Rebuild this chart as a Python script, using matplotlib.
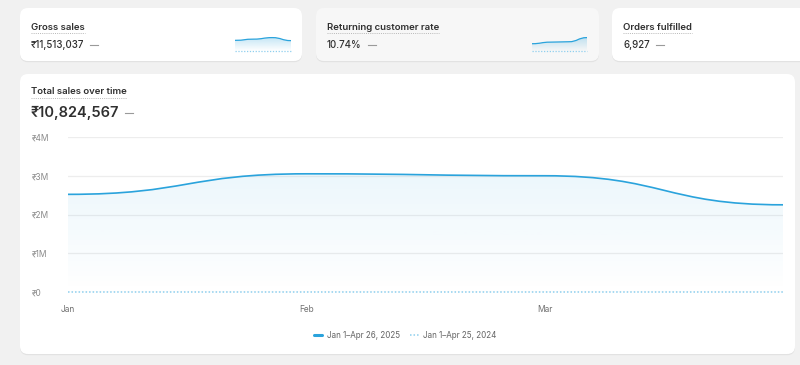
import numpy as np
import matplotlib
matplotlib.use("Agg")
import matplotlib.pyplot as plt
from matplotlib.patches import FancyBboxPatch, PathPatch
from matplotlib.path import Path

plt.rcParams['font.family'] = ['Inter', 'DejaVu Sans']

# --------- DATA ---------
months = ['Jan', 'Feb', 'Mar', 'Apr']
sales_2025 = [2.52e6, 3.05e6, 3.00e6, 2.25e6]
sales_2024 = [0, 0, 0, 0]
y_ticks = [0, 1e6, 2e6, 3e6, 4e6]
y_tick_labels = ['₹0', '₹1M', '₹2M', '₹3M', '₹4M']
legend_labels = ['Jan 1–Apr 26, 2025', 'Jan 1–Apr 25, 2024']

gross_spark = [2.65, 2.95, 3.33, 2.58]
returning_spark = [7.4, 9.0, 9.4, 13.6]

card_titles = ['Gross sales', 'Returning customer rate', 'Orders fulfilled']
card_values = ['₹11,513,037', '10.74%', '6,927']
chart_title = 'Total sales over time'
chart_total = '₹10,824,567'

BLUE = '#2aa3dc'
LIGHT_BLUE = '#8ecfee'
TEXT = '#303030'
GREY = '#8a8a8a'


def bump_path(x, y, close_to=None):
    """bezier path through the points, flat at each point (like d3 curveBumpX)"""
    verts = [(x[0], y[0])]
    codes = [Path.MOVETO]
    for i in range(len(x) - 1):
        xm = (x[i] + x[i + 1]) / 2
        verts += [(xm, y[i]), (xm, y[i + 1]), (x[i + 1], y[i + 1])]
        codes += [Path.CURVE4] * 3
    if close_to is not None:
        verts += [(x[-1], close_to), (x[0], close_to), (x[0], y[0])]
        codes += [Path.LINETO, Path.LINETO, Path.CLOSEPOLY]
    return Path(verts, codes)


def gradient_fill(ax, x, y, top, a_top):
    rgba = np.zeros((100, 1, 4))
    rgba[..., :3] = matplotlib.colors.to_rgb(BLUE)
    rgba[:, 0, 3] = np.linspace(0, a_top, 100)
    im = ax.imshow(rgba, extent=[x[0], x[-1], 0, top], origin='lower', aspect='auto', zorder=1)
    patch = PathPatch(bump_path(x, y, close_to=0), facecolor='none', edgecolor='none')
    ax.add_patch(patch)
    im.set_clip_path(patch)


fig = plt.figure(figsize=(8, 3.65), dpi=100)
fig.patch.set_facecolor('#f1f1f1')

# background axes in pixel coordinates
bg = fig.add_axes([0, 0, 1, 1])
bg.set_xlim(0, 800)
bg.set_ylim(365, 0)
bg.axis('off')


def card(x, y, w, h, color='white'):
    bg.add_patch(FancyBboxPatch((x, y + 1.2), w, h, boxstyle='round,pad=0,rounding_size=8',
                                facecolor='#e2e2e2', edgecolor='none'))
    bg.add_patch(FancyBboxPatch((x, y), w, h, boxstyle='round,pad=0,rounding_size=8',
                                facecolor=color, edgecolor='none'))


card(20, 8, 282, 53)
card(316, 8, 283, 53, color='#f7f7f7')
card(612, 8, 210, 53)
card(20, 74, 775, 280)

# --------- CARD TEXTS ---------
underlined = []
value_texts = []
for cx, title, value in zip([31, 327, 623], card_titles, card_values):
    underlined.append(bg.text(cx, 27, title, fontsize=6.9, fontweight='semibold', color=TEXT, va='center'))
    value_texts.append(bg.text(cx, 45.5, value, fontsize=7.0, fontweight='medium', color=TEXT, va='center'))

underlined.append(bg.text(31, 92, chart_title, fontsize=6.9, fontweight='semibold', color=TEXT, va='center'))
value_texts.append(bg.text(31, 113, chart_total, fontsize=10.5, fontweight='semibold', color=TEXT, va='center'))

# --------- SPARKLINES ---------
for (x0, x1), vals in zip([(235, 291), (532, 587)], [gross_spark, returning_spark]):
    sp = fig.add_axes([x0 / 800, (365 - 51) / 365, (x1 - x0) / 800, 15 / 365])
    sp.axis('off')
    xs = np.arange(len(vals))
    top = max(vals) * 1.12
    gradient_fill(sp, xs, vals, top, 0.3)
    sp.add_patch(PathPatch(bump_path(xs, vals), facecolor='none', edgecolor=BLUE, lw=0.9, zorder=3))
    sp.plot(xs, [0] * len(xs), color=LIGHT_BLUE, lw=0.9, ls=(0, (1, 1.3)), zorder=2, clip_on=False)
    sp.set_xlim(0, len(vals) - 1)
    sp.set_ylim(0, top)

# --------- MAIN CHART ---------
ax = fig.add_axes([68 / 800, (365 - 292) / 365, (783 - 68) / 800, (292 - 137) / 365])
ax.set_facecolor('none')
x = np.arange(len(months))

gradient_fill(ax, x, sales_2025, max(sales_2025), 0.09)
ax.add_patch(PathPatch(bump_path(x, sales_2025), facecolor='none', edgecolor=BLUE, lw=1.2, zorder=3))
# proxy line for the legend
l1, = ax.plot([], [], color=BLUE, lw=2.2, solid_capstyle='round')
l2, = ax.plot(x, sales_2024, color=LIGHT_BLUE, lw=1.1, ls=(0, (1, 1.3)), zorder=2, clip_on=False)

ax.set_xlim(0, 3)
ax.set_ylim(0, 4e6)
ax.set_yticks(y_ticks)
ax.set_yticklabels(y_tick_labels, ha='left')
ax.set_xticks(x[:3])
ax.set_xticklabels(months[:3])
ax.tick_params(axis='y', length=0, pad=26, labelsize=6, labelcolor=GREY)
ax.tick_params(axis='x', length=0, pad=9, labelsize=6, labelcolor='#6f6f6f')
ax.yaxis.grid(True, color='#ededed', lw=0.9)
ax.set_axisbelow(True)
for s in ax.spines.values():
    s.set_visible(False)

leg = ax.legend([l1, l2], legend_labels, loc='center', bbox_to_anchor=(405 / 800, 1 - 335 / 365),
                bbox_transform=fig.transFigure, ncol=2, frameon=False, fontsize=5.8, labelcolor='#646464',
                handlelength=1.1, handletextpad=0.5, columnspacing=1.3)

# --------- DASHES AND DOTTED UNDERLINES ---------
fig.canvas.draw()
r = fig.canvas.get_renderer()
inv = bg.transData.inverted()

for txt in underlined:
    bb = txt.get_window_extent(r)
    (xa, ya), (xb, yb) = inv.transform([(bb.x0, bb.y0), (bb.x1, bb.y1)])
    bg.plot([xa, xb], [ya + 1.5, ya + 1.5], color='#b8b8b8', lw=0.7, ls=(0, (1, 1.2)))

for txt in value_texts:
    bb = txt.get_window_extent(r)
    (xa, ya), (xb, yb) = inv.transform([(bb.x0, bb.y0), (bb.x1, bb.y1)])
    if txt.get_text() == chart_total:
        bg.plot([xb + 5, xb + 13], [113.3, 113.3], color='#9a9a9a', lw=0.8)
    else:
        bg.plot([xb + 6, xb + 14], [44.5, 44.5], color='#9a9a9a', lw=0.8)

fig.savefig('out.png', dpi=100, facecolor=fig.get_facecolor())
